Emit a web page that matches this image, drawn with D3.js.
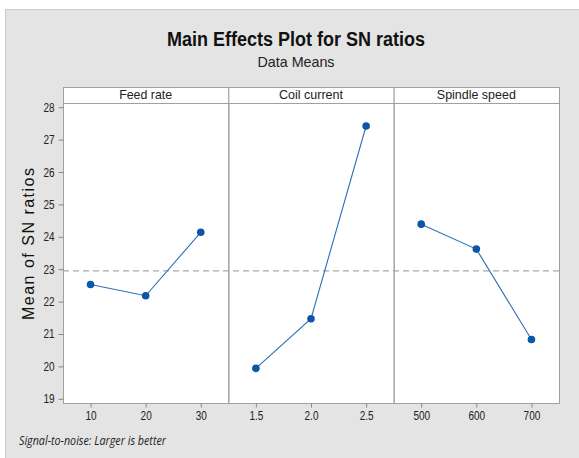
<!DOCTYPE html>
<html>
<head>
<meta charset="utf-8">
<script src="https://cdn.jsdelivr.net/npm/d3@7"></script>
<style>
  body { margin: 0; background: #fff; }
  text { font-family: "Liberation Sans", Arial, sans-serif; }
</style>
</head>
<body>
<div id="main"></div>
<script>
// factors and their levels
var factors = ['Feed rate', 'Coil current', 'Spindle speed'];
var feedLevels = ['10', '20', '30'];
var coilLevels = ['1.5', '2.0', '2.5'];
var spindleLevels = ['500', '600', '700'];

// mean SN ratio at each level
var feedMeans = [22.53, 22.18, 24.14];
var coilMeans = [19.94, 21.47, 27.42];
var spindleMeans = [24.39, 23.62, 20.83];

var yTicks = [19, 20, 21, 22, 23, 24, 25, 26, 27, 28];

// squeeze text to look like the narrow font of the original
function narrow(sel, k) {
  sel.each(function() {
    var w = this.getComputedTextLength();
    d3.select(this)
      .attr('textLength', w * k)
      .attr('lengthAdjust', 'spacingAndGlyphs');
  });
}

function Sketch() {
  this.width = 579;
  this.height = 458;
  this.left = 63;
  this.right = 559;
  this.stripTop = 87;
  this.stripBottom = 103;
  this.bottom = 403;
}

Sketch.prototype.init = function() {
  this.svg = d3.select('#main')
    .append('svg')
    .attr('width', this.width)
    .attr('height', this.height);

  this.svg.append('rect')
    .attr('class', 'bg-rect')
    .attr('x', 5.5)
    .attr('y', 9.5)
    .attr('width', this.width - 5)
    .attr('height', this.height - 9)
    .attr('fill', '#e4e4e4')
    .attr('stroke', '#c9c9c9');

  this.svg.append('g').attr('class', 'plot');
};

Sketch.prototype.update = function() {
  var levels = [feedLevels, coilLevels, spindleLevels];
  var means = [feedMeans, coilMeans, spindleMeans];

  this.data = factors.map(function(f, i) {
    return {
      name: f,
      levels: levels[i],
      points: levels[i].map(function(l, j) { return {level: l, value: means[i][j]}; })
    };
  });

  this.grandMean = d3.mean(feedMeans);
};

Sketch.prototype.render = function() {
  var self = this;
  var g = this.svg.select('g.plot');

  var y = d3.scaleLinear()
    .domain([18.87, 28.13])
    .range([this.bottom, this.stripBottom]);

  var panel = d3.scaleBand()
    .domain(factors)
    .range([this.left, this.right]);

  // white plot area
  g.append('rect')
    .attr('x', this.left)
    .attr('y', this.stripTop)
    .attr('width', this.right - this.left)
    .attr('height', this.bottom - this.stripTop)
    .attr('fill', '#fff');

  // reference line at overall mean
  g.append('line')
    .attr('x1', this.left)
    .attr('x2', this.right)
    .attr('y1', y(this.grandMean))
    .attr('y2', y(this.grandMean))
    .attr('stroke', '#a8a8a8')
    .attr('stroke-width', 1.2)
    .attr('stroke-dasharray', '6,4');

  var stripWidths = {'Feed rate': 53, 'Coil current': 64, 'Spindle speed': 79};

  var panels = g.selectAll('g.panel')
    .data(this.data)
    .enter()
    .append('g')
    .attr('class', 'panel');

  panels.each(function(d) {
    var p = d3.select(this);
    var x0 = panel(d.name);
    var bw = panel.bandwidth();

    var x = d3.scalePoint()
      .domain(d.levels)
      .range([x0, x0 + bw])
      .padding(0.5);

    // strip
    p.append('rect')
      .attr('x', x0 + 0.5)
      .attr('y', self.stripTop + 0.5)
      .attr('width', bw)
      .attr('height', self.stripBottom - self.stripTop)
      .attr('fill', '#fff')
      .attr('stroke', '#a0a0a0');

    p.append('text')
      .attr('x', x0 + bw / 2)
      .attr('y', self.stripBottom - 4)
      .attr('text-anchor', 'middle')
      .attr('font-size', 13)
      .attr('fill', '#222')
      .attr('textLength', stripWidths[d.name])
      .attr('lengthAdjust', 'spacingAndGlyphs')
      .text(d.name);

    // panel frame
    p.append('rect')
      .attr('x', x0 + 0.5)
      .attr('y', self.stripBottom + 0.5)
      .attr('width', bw)
      .attr('height', self.bottom - self.stripBottom)
      .attr('fill', 'none')
      .attr('stroke', '#a0a0a0');

    var line = d3.line()
      .x(function(e) { return x(e.level); })
      .y(function(e) { return y(e.value); });

    p.append('path')
      .datum(d.points)
      .attr('d', line)
      .attr('fill', 'none')
      .attr('stroke', '#2e6db8')
      .attr('stroke-width', 1.1);

    p.selectAll('circle')
      .data(d.points)
      .enter()
      .append('circle')
      .attr('cx', function(e) { return x(e.level); })
      .attr('cy', function(e) { return y(e.value); })
      .attr('r', 3.8)
      .attr('fill', '#0a56a8');

    var xAxis = p.append('g')
      .attr('transform', 'translate(0,' + (self.bottom + 0.5) + ')')
      .call(d3.axisBottom(x).tickSize(4).tickPadding(4));
    xAxis.select('.domain').remove();
    xAxis.selectAll('line').attr('stroke', '#888');
    xAxis.selectAll('text')
      .attr('font-size', 12.5)
      .attr('fill', '#222')
      .call(narrow, 0.8);
  });

  var yAxis = g.append('g')
    .attr('transform', 'translate(' + (this.left + 0.5) + ',0)')
    .call(d3.axisLeft(y).tickValues(yTicks).tickSize(5).tickPadding(4));
  yAxis.select('.domain').remove();
  yAxis.selectAll('line').attr('stroke', '#888');
  yAxis.selectAll('text')
    .attr('font-size', 12.5)
    .attr('fill', '#222')
    .call(narrow, 0.8);

  // titles
  this.svg.append('text')
    .attr('x', 296)
    .attr('y', 46)
    .attr('text-anchor', 'middle')
    .attr('font-size', 20)
    .attr('font-weight', 'bold')
    .attr('fill', '#111')
    .attr('textLength', 258)
    .attr('lengthAdjust', 'spacingAndGlyphs')
    .text('Main Effects Plot for SN ratios');

  this.svg.append('text')
    .attr('x', 296)
    .attr('y', 67)
    .attr('text-anchor', 'middle')
    .attr('font-size', 15)
    .attr('fill', '#222')
    .attr('textLength', 77)
    .attr('lengthAdjust', 'spacingAndGlyphs')
    .text('Data Means');

  this.svg.append('text')
    .attr('transform', 'translate(34,244) rotate(-90)')
    .attr('text-anchor', 'middle')
    .attr('font-size', 16)
    .attr('fill', '#111')
    .attr('textLength', 152)
    .attr('lengthAdjust', 'spacing')
    .text('Mean of SN ratios');

  this.svg.append('text')
    .attr('x', 19)
    .attr('y', 445)
    .attr('font-size', 12)
    .attr('font-style', 'italic')
    .attr('fill', '#222')
    .attr('textLength', 147)
    .attr('lengthAdjust', 'spacingAndGlyphs')
    .style('font-family', '"Open Sans", "Liberation Sans", sans-serif')
    .text('Signal-to-noise: Larger is better');
};

document.addEventListener('DOMContentLoaded', function() {
  var s = new Sketch();
  s.init();
  s.update();
  s.render();
});
</script>
</body>
</html>
